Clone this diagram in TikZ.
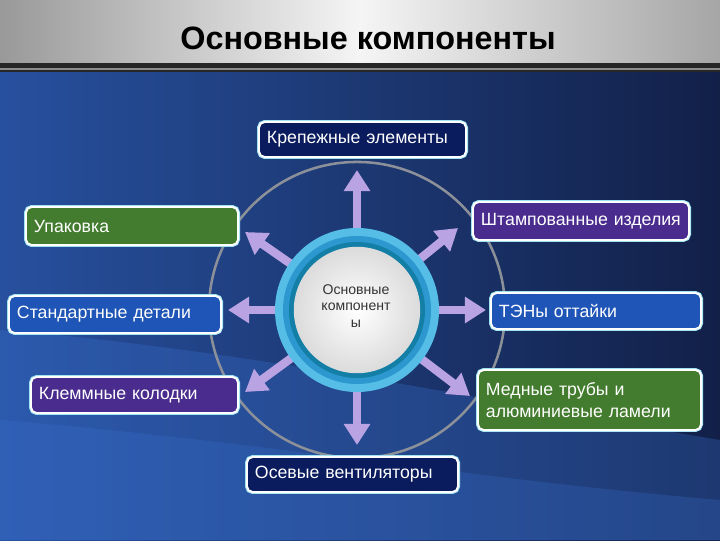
\documentclass[tikz,border=0pt]{standalone}
\usepackage{fontspec}
\setmainfont{Liberation Sans}
\usetikzlibrary{arrows.meta}

\definecolor{navybox}{HTML}{0B1C5E}
\definecolor{greenbox}{HTML}{437C2E}
\definecolor{purplebox}{HTML}{4A2C8E}
\definecolor{bluebox}{HTML}{1F55B6}
\definecolor{lilac}{HTML}{B9A3E3}
\definecolor{glow}{HTML}{9FE3F2}
\definecolor{bgleft}{HTML}{27509E}
\definecolor{bgright}{HTML}{122048}
\definecolor{wave}{HTML}{3A72D2}
\definecolor{orbit}{HTML}{8C9099}
\definecolor{ringa}{HTML}{55BDE6}
\definecolor{ringb}{HTML}{2C98CF}
\definecolor{ringc}{HTML}{137EA6}

\tikzset{
  box/.style={draw=white, line width=1.4pt, rounded corners=4pt, text=white,
    align=left, anchor=west, inner xsep=0.2cm, inner ysep=0pt,
    font=\fontsize{12.6}{15.5}\selectfont, preaction={draw=glow, line width=2.8pt}},
  spoke/.style={draw=lilac, line width=6pt, -{Triangle[width=18pt,length=15pt]}}
}

\begin{document}
\begin{tikzpicture}[x=0.025cm,y=-0.025cm]
  \useasboundingbox (0,0) rectangle (720,540);

  % background
  \shade[left color=bgleft, right color=bgright] (0,70) rectangle (720,540);
  \fill[wave, opacity=0.3] (0,330) .. controls (250,350) and (480,400) .. (720,440)
    -- (720,540) -- (0,540) -- cycle;
  \fill[wave, opacity=0.25] (0,420) .. controls (250,440) and (480,480) .. (720,500)
    -- (720,540) -- (0,540) -- cycle;

  % title bar
  \shade[left color=black!40, right color=black!35, middle color=black!4] (0,0) rectangle (720,63);
  \fill[black!85] (0,63) rectangle (720,72);
  \fill[black!45] (0,68) rectangle (720,70);
  \node[font=\bfseries\fontsize{23}{26}\selectfont] (title) at (368,38) {Основные компоненты};

  % orbit
  \coordinate (hub) at (357,310);
  \draw[orbit, line width=1.8pt] (hub) circle[radius=3.7cm];

  % spokes
  \coordinate (tn)  at (357,170);
  \coordinate (tne) at (458,228);
  \coordinate (te)  at (486,310);
  \coordinate (tse) at (470,396);
  \coordinate (ts)  at (357,445);
  \coordinate (tsw) at (245,392);
  \coordinate (tw)  at (228,310);
  \coordinate (tnw) at (245,232);
  \foreach \t in {tn,tne,te,tse,ts,tsw,tw,tnw}
    \draw[spoke] (hub) -- (\t);

  % hub rings
  \fill[ringa] (hub) circle[radius=2.05cm];
  \fill[ringb] (hub) circle[radius=1.85cm];
  \fill[ringc] (hub) circle[radius=1.7cm];
  \shade[inner color=white, outer color=black!14] (hub) circle[radius=1.58cm];
  \node[align=center, text=black!80, font=\fontsize{10}{11.5}\selectfont] (core) at (356,306)
    {Основные\\компонент\\ы};

  % boxes
  \node[box, fill=navybox, text width=4.775cm, minimum height=0.875cm] (krep) at (258,139.5) {Крепежные элементы};
  \node[box, fill=greenbox, text width=4.9cm, minimum height=0.95cm] (upak) at (25,226) {Упаковка};
  \node[box, fill=purplebox, text width=5cm, minimum height=0.95cm] (shtamp) at (472,221) {Штампованные изделия};
  \node[box, fill=bluebox, text width=4.9cm, minimum height=0.925cm] (stand) at (8,314.5) {Стандартные детали};
  \node[box, fill=bluebox, text width=4.85cm, minimum height=0.9cm] (ten) at (490,311) {ТЭНы оттайки};
  \node[box, fill=purplebox, text width=4.775cm, minimum height=0.9cm] (klem) at (30,395) {Клеммные колодки};
  \node[box, fill=greenbox, text width=5.175cm, minimum height=1.5cm] (med) at (477,400) {Медные трубы и\\алюминиевые ламели};
  \node[box, fill=navybox, text width=4.875cm, minimum height=0.875cm] (osev) at (246,474.5) {Осевые вентиляторы};
\end{tikzpicture}
\end{document}
